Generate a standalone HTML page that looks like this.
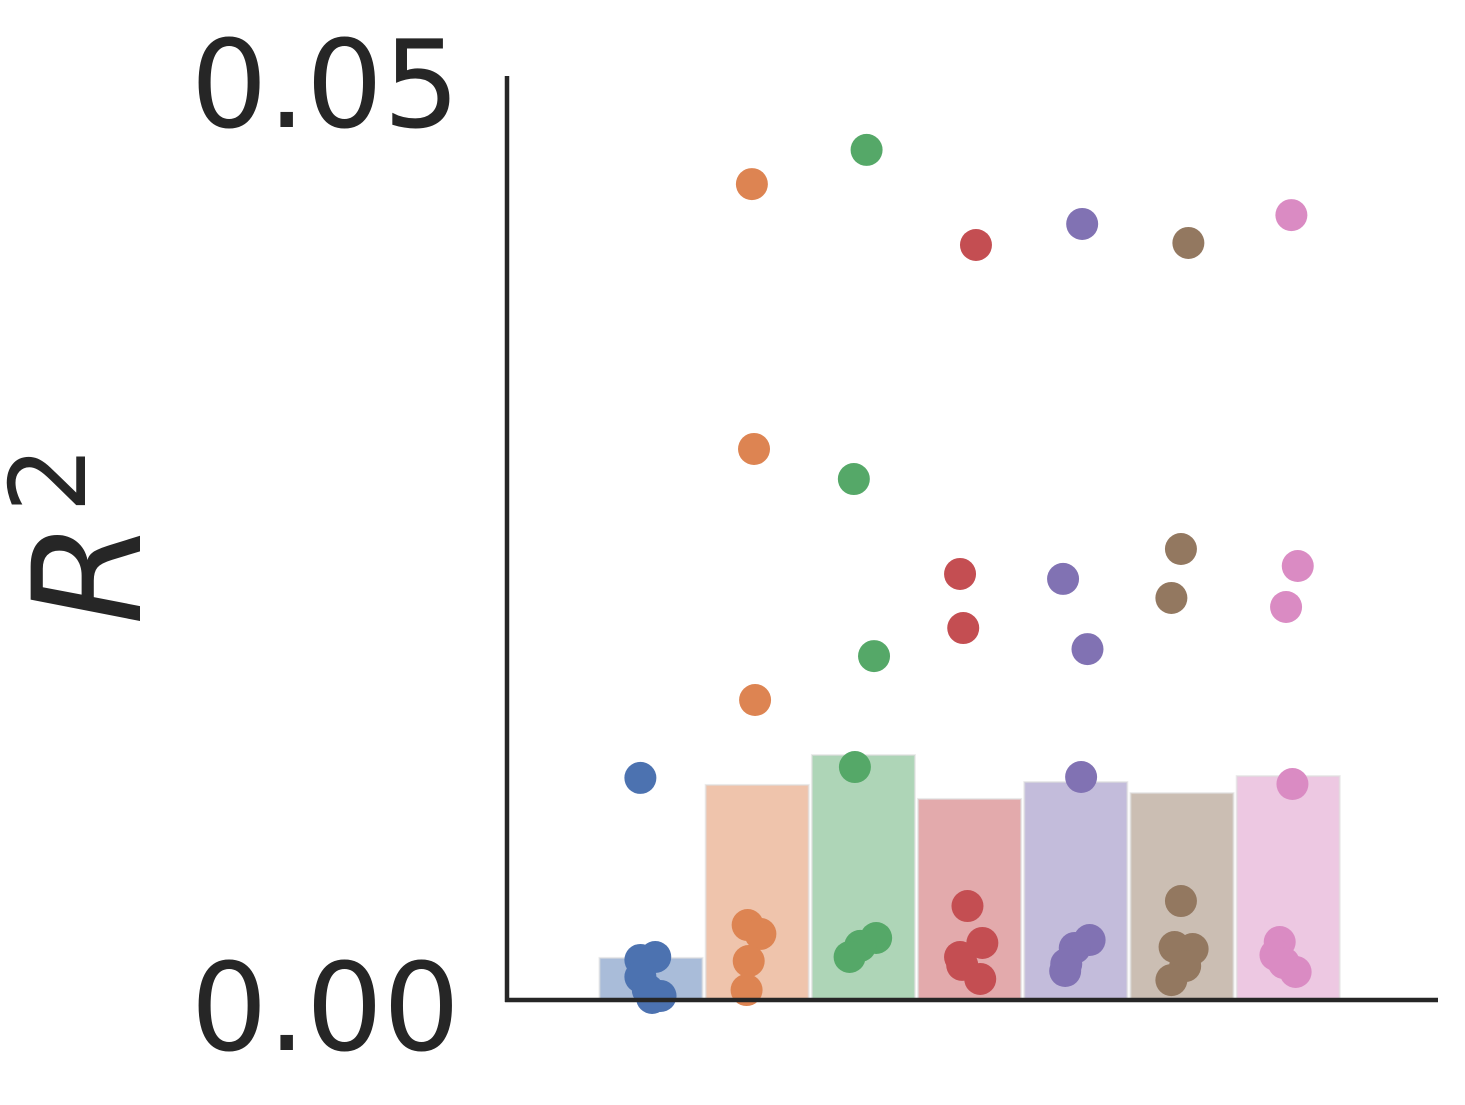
<!DOCTYPE html>
<html><head><meta charset="utf-8"><style>
html,body{margin:0;padding:0;background:#fff;}
svg{display:block;font-family:"DejaVu Sans","Liberation Sans",sans-serif;}
</style></head><body>
<svg id="chart" width="1465" height="1105">
<g id="bars"></g>
<g id="dots"></g>
<line x1="507" y1="76" x2="507" y2="1002" stroke="#262626" stroke-width="4.5"/>
<line x1="505" y1="1000" x2="1438" y2="1000" stroke="#262626" stroke-width="4.5"/>
<g id="ticks"></g>
<text transform="translate(140,625) rotate(-90)" font-size="150" font-style="italic" fill="#262626">R<tspan font-size="105" font-style="normal" dy="-55" dx="8">2</tspan></text>
</svg>
<script>
const categories=["c1","c2","c3","c4","c5","c6","c7"];
const colors=["#4c72b0","#dd8452","#55a868","#c44e52","#8172b3","#937860","#da8bc3"];
const barValues=[0.00228,0.01165,0.01327,0.01089,0.01181,0.01121,0.01213];
const pointValues=[
[0.01203,0.00217,0.00233,0.00125,0.00054,0.00022,0.00011],
[0.0442,0.02985,0.01625,0.00406,0.00358,0.00211,0.00054],
[0.04605,0.02822,0.01863,0.01262,0.00336,0.00293,0.00233],
[0.0409,0.02308,0.02015,0.00509,0.00309,0.00233,0.0019,0.00114],
[0.04204,0.02281,0.01901,0.01208,0.00325,0.00282,0.00195,0.00157],
[0.04101,0.02443,0.02178,0.00536,0.00276,0.00287,0.00184,0.00108],
[0.04252,0.02351,0.02129,0.0117,0.00314,0.00244,0.002,0.00152]];
const jitter=[
[-0.1,-0.1,0.04,-0.1,-0.03,0.09,0.01],
[-0.05,-0.03,-0.02,-0.09,0.03,-0.08,-0.1],
[0.03,-0.09,0.1,-0.08,0.12,-0.03,-0.13],
[0.06,-0.09,-0.06,-0.02,0.12,-0.09,-0.07,0.1],
[0.06,-0.12,0.11,0.05,0.13,-0.01,-0.09,-0.1],
[0.06,-0.01,-0.1,-0.01,0.1,-0.07,0.03,-0.1],
[0.03,0.09,-0.02,0.04,-0.08,-0.12,-0.04,0.07]];
const yTicks=[0,0.05];
const yTickLabels=["0.00","0.05"];
const y=v=>1000-v*18460;
const band=106.2, x0=651;
const x=i=>x0+i*band;
const NS="http://www.w3.org/2000/svg";
const bars=document.getElementById('bars'),dots=document.getElementById('dots'),ticks=document.getElementById('ticks');
categories.forEach((c,i)=>{
  const r=document.createElementNS(NS,'rect');
  r.setAttribute('x',x(i)-51.5);r.setAttribute('width',103);
  r.setAttribute('y',y(barValues[i]));r.setAttribute('height',1000-y(barValues[i]));
  r.setAttribute('fill',colors[i]);r.setAttribute('fill-opacity','0.48');
  r.setAttribute('stroke','#dddddd');r.setAttribute('stroke-opacity','0.6');r.setAttribute('stroke-width','2');
  
  
  bars.appendChild(r);
});
pointValues.forEach((arr,i)=>{
  arr.forEach((v,j)=>{
    const ci=document.createElementNS(NS,'circle');
    ci.setAttribute('cx',x(i)+jitter[i][j]*band);ci.setAttribute('cy',y(v));ci.setAttribute('r',16);
    ci.setAttribute('fill',colors[i]);
    
    
    dots.appendChild(ci);
  });
});
yTicks.forEach((t,i)=>{
  const tx=document.createElementNS(NS,'text');
  tx.setAttribute('x',460);tx.setAttribute('y',y(t)+50);tx.setAttribute('text-anchor','end');
  tx.setAttribute('font-size','121');tx.setAttribute('fill','#262626');
  tx.textContent=yTickLabels[i];
  
  
  ticks.appendChild(tx);
});
</script>
</body></html>
